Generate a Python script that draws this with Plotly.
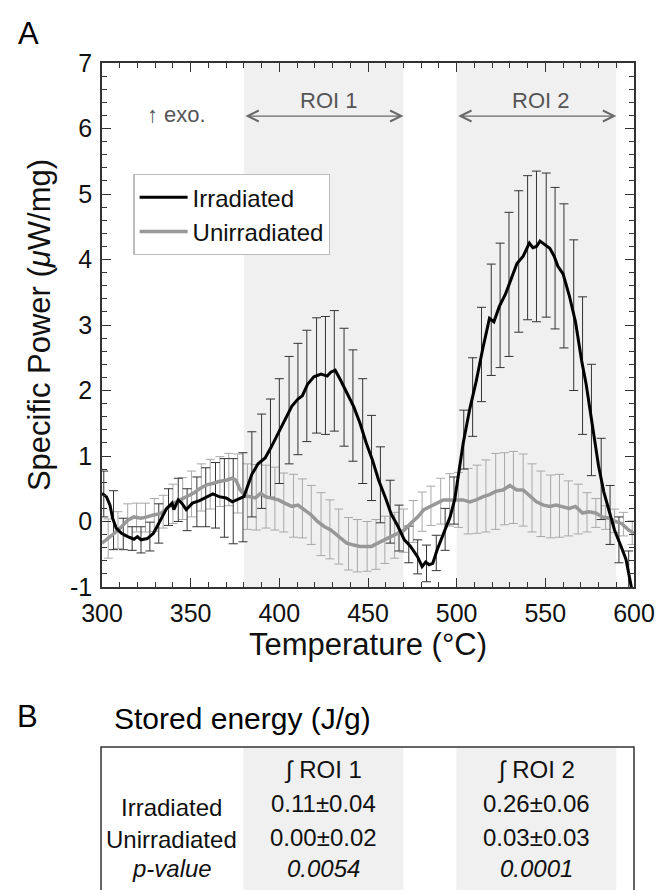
import plotly.graph_objects as go

# ---------------- data ----------------
# Irradiated mean curve (temperature °C, specific power µW/mg)
irr_T = [300, 302.5, 304.5, 306, 308, 311, 314.5, 318, 320, 322, 325.5, 329, 331, 333, 336.5,
         339.5, 340.5, 343, 345, 347.5, 351, 355, 359, 362.5, 366, 370, 373.5, 377, 380, 382,
         384.5, 388, 392, 395.5, 399.5, 403, 407, 410.5, 413, 416, 419.5, 423.5, 427, 429, 431.5,
         434.5, 438, 442, 445.5, 449, 452.5, 456, 460, 463, 467, 470.5, 474, 478, 480.5, 482.5,
         484.5, 486.5, 489, 492.5, 496.3, 499, 500.5, 503.7, 507.4, 511, 514.8, 518.5, 521, 524,
         527.5, 530.5, 534, 537.5, 541, 543, 545, 547, 549, 552.5, 555, 557, 560, 563.5, 567,
         570.5, 573, 577, 580, 583, 586, 589, 593, 595.5, 598.5, 600]
irr_P = [0.43, 0.38, 0.25, 0.05, -0.10, -0.18, -0.23, -0.27, -0.23, -0.28, -0.26, -0.18, -0.08, 0.02, 0.20,
         0.28, 0.18, 0.33, 0.28, 0.18, 0.28, 0.32, 0.38, 0.42, 0.38, 0.36, 0.30, 0.35, 0.38, 0.53,
         0.72, 0.88, 0.97, 1.14, 1.36, 1.56, 1.76, 1.87, 1.92, 2.10, 2.21, 2.25, 2.22, 2.28, 2.31,
         2.16, 1.97, 1.75, 1.50, 1.20, 0.94, 0.63, 0.35, 0.12, -0.08, -0.28, -0.38, -0.54, -0.69, -0.62,
         -0.66, -0.64, -0.43, -0.18, 0.07, 0.35, 0.60, 1.20, 1.72, 2.14, 2.65, 3.10, 3.05, 3.28,
         3.47, 3.70, 3.94, 4.05, 4.25, 4.18, 4.20, 4.28, 4.24, 4.17, 4.05, 3.90, 3.78, 3.45, 3.05,
         2.45, 2.10, 1.35, 0.85, 0.45, 0.15, -0.13, -0.40, -0.58, -1.00, -1.20]

# Unirradiated mean curve
unirr_T = [300, 303.5, 307, 311, 314.5, 318, 322, 325.5, 329, 333, 336.5, 340.5, 344, 348, 351.5,
           355, 359, 362.5, 366, 370, 373.5, 375.5, 378, 381, 383, 386.5, 389.5, 392, 395.5, 399.5,
           403, 407, 410.5, 414, 418, 421.5, 425.5, 429, 432.5, 436, 438, 442, 445.5, 449, 452,
           455.5, 459.5, 463, 467, 470.5, 474, 478, 481.5, 485, 489, 492.5, 496, 500, 503.5, 507.5,
           511, 515, 518.5, 522, 526, 530, 534, 537.5, 541.5, 545, 549, 552.5, 556, 560, 563.5,
           567, 571, 574.5, 578.5, 582, 586, 589.5, 593, 597, 600]
unirr_P = [-0.33, -0.26, -0.18, -0.08, 0.02, 0.07, 0.05, 0.07, 0.10, 0.12, 0.20, 0.28, 0.33, 0.38, 0.43,
           0.50, 0.56, 0.58, 0.61, 0.63, 0.66, 0.63, 0.48, 0.38, 0.38, 0.36, 0.43, 0.38, 0.36, 0.33,
           0.28, 0.23, 0.25, 0.18, 0.10, 0.00, -0.08, -0.13, -0.21, -0.28, -0.33, -0.36, -0.38, -0.38, -0.38,
           -0.33, -0.28, -0.23, -0.18, -0.13, -0.03, 0.07, 0.18, 0.23, 0.28, 0.33, 0.33, 0.33, 0.33, 0.30,
           0.33, 0.38, 0.41, 0.46, 0.48, 0.55, 0.48, 0.48, 0.38, 0.30, 0.25, 0.23, 0.25, 0.23, 0.20,
           0.23, 0.13, 0.15, 0.13, 0.07, 0.05, 0.00, -0.03, -0.13, -0.18]

# Error bars (mean ± s.d.) sampled along each curve
irr_err_T = [301, 306.5, 312, 317, 322, 327, 332, 337.5, 343, 348, 353.5, 358.5, 364, 369, 374,
             379.5, 384.5, 390, 395, 400, 405.5, 410.5, 415.5, 421, 426, 431, 436.5, 441.5, 447, 452,
             457, 462.5, 467.5, 473, 478, 483, 488.5, 493.5, 498.5, 504, 509, 514, 519.5, 524.5, 529.5,
             535, 540, 545, 550.5, 555.5, 560.5, 566, 571, 576, 581.5, 586.5, 591.5, 597]
irr_err_mean = [0.42, 0.02, -0.19, -0.26, -0.28, -0.23, -0.03, 0.22, 0.33, 0.18, 0.30, 0.37, 0.40, 0.36, 0.31,
                0.37, 0.72, 0.92, 1.12, 1.38, 1.70, 1.87, 2.07, 2.23, 2.23, 2.30, 2.05, 1.77, 1.38, 0.97,
                0.56, 0.15, -0.10, -0.35, -0.54, -0.64, -0.48, -0.12, 0.32, 1.25, 1.90, 2.55, 3.08, 3.30, 3.62,
                3.97, 4.18, 4.20, 4.22, 4.02, 3.75, 3.15, 2.38, 1.55, 0.65, 0.10, -0.28, -0.75]
irr_err = [0.35, 0.45, 0.24, 0.18, 0.20, 0.22, 0.30, 0.28, 0.33, 0.32, 0.38, 0.45, 0.50, 0.60, 0.65,
           0.68, 0.65, 0.72, 0.75, 0.80, 0.82, 0.85, 0.85, 0.88, 0.90, 0.92, 0.90, 0.85, 0.80, 0.65,
           0.58, 0.48, 0.35, 0.28, 0.26, 0.28, 0.27, 0.32, 0.36, 0.45, 0.60, 0.72, 0.85, 0.95, 1.10,
           1.08, 1.10, 1.15, 1.10, 1.08, 1.10, 1.15, 1.05, 0.85, 0.62, 0.45, 0.35, 0.30]

unirr_err_T = [303.5, 309, 314.5, 319.5, 324.5, 329.5, 334.5, 340, 345.5, 350.5, 356, 361, 366.5, 371.5, 376.5,
               382, 387, 392.5, 397.5, 402.5, 408, 413, 418, 423.5, 428.5, 433.5, 439, 444, 449.5, 454.5,
               459.5, 465, 470, 475.5, 480.5, 485.5, 491, 496, 501, 506.5, 511.5, 516.5, 522, 527, 532,
               537.5, 542.5, 547.5, 553, 558, 563, 568.5, 573.5, 578.5, 584, 589, 594, 599]
unirr_err_mean = [-0.26, -0.13, 0.02, 0.06, 0.06, 0.10, 0.15, 0.27, 0.35, 0.42, 0.52, 0.57, 0.61, 0.64, 0.58,
                  0.38, 0.37, 0.38, 0.35, 0.29, 0.24, 0.20, 0.10, -0.04, -0.12, -0.23, -0.34, -0.37, -0.38, -0.35,
                  -0.28, -0.21, -0.14, 0.00, 0.15, 0.24, 0.31, 0.33, 0.33, 0.31, 0.34, 0.39, 0.46, 0.50, 0.52,
                  0.48, 0.36, 0.27, 0.23, 0.24, 0.20, 0.19, 0.14, 0.13, 0.06, 0.01, -0.04, -0.17]
unirr_err = [0.30, 0.28, 0.25, 0.22, 0.22, 0.25, 0.25, 0.30, 0.32, 0.35, 0.36, 0.38, 0.38, 0.40, 0.45,
             0.50, 0.50, 0.48, 0.48, 0.45, 0.48, 0.45, 0.45, 0.48, 0.45, 0.42, 0.40, 0.40, 0.38, 0.38,
             0.36, 0.35, 0.33, 0.32, 0.30, 0.30, 0.35, 0.40, 0.42, 0.50, 0.52, 0.55, 0.58, 0.55, 0.55,
             0.55, 0.52, 0.50, 0.48, 0.48, 0.42, 0.38, 0.30, 0.22, 0.18, 0.18, 0.18, 0.18]

series_names = ["Irradiated", "Unirradiated"]
roi_labels = ["ROI 1", "ROI 2"]
roi_bounds = [(380, 470), (500, 590)]

x_ticks = [300, 350, 400, 450, 500, 550, 600]
y_ticks = [-1, 0, 1, 2, 3, 4, 5, 6, 7]

# Table B: stored energy (J/g)
table_title = "Stored energy (J/g)"
table_cols = ["∫ ROI 1", "∫ ROI 2"]
table_rows = ["Irradiated", "Unirradiated", "p-value"]
table_vals = [["0.11±0.04", "0.26±0.06"],
              ["0.00±0.02", "0.03±0.03"],
              ["0.0054", "0.0001"]]

# ---------------- layout geometry (pixels) ----------------
W, H = 667, 890
ML, MR, MT, MB = 102, 23, 63, 303
PW, PH = W - ML - MR, H - MT - MB
FONT = "Liberation Sans, Arial, Helvetica, sans-serif"


def px(xp):
    return (xp - ML) / PW


def py(yp):
    return (H - MB - yp) / PH


fig = go.Figure()

# error bars (drawn first, under the curves)
fig.add_trace(go.Scatter(
    x=unirr_err_T, y=unirr_err_mean, mode="markers",
    marker=dict(size=1, color="rgba(0,0,0,0)"),
    error_y=dict(type="data", array=unirr_err, color="#a8a8a8", thickness=1, width=4.5),
    showlegend=False, hoverinfo="skip"))
fig.add_trace(go.Scatter(
    x=irr_err_T, y=irr_err_mean, mode="markers",
    marker=dict(size=1, color="rgba(0,0,0,0)"),
    error_y=dict(type="data", array=irr_err, color="#333333", thickness=1, width=4.5),
    showlegend=False, hoverinfo="skip"))

# curves (unirradiated first so the black curve lies on top)
fig.add_trace(go.Scatter(x=unirr_T, y=unirr_P, mode="lines", name=series_names[1],
                         line=dict(color="#989898", width=3.5), legendrank=2))
fig.add_trace(go.Scatter(x=irr_T, y=irr_P, mode="lines", name=series_names[0],
                         line=dict(color="#000000", width=3), legendrank=1))

shapes = []
annotations = []

# ROI shading and arrows
roi_text_x = [428, 547]
for (a, b), lab, tx in zip(roi_bounds, roi_labels, roi_text_x):
    shapes.append(dict(type="rect", xref="x", yref="paper", x0=a, x1=b, y0=0, y1=1,
                       fillcolor="#f0f0f0", line=dict(width=0), layer="below"))
    annotations.append(dict(x=b, y=6.19, ax=a, ay=6.19, xref="x", yref="y", axref="x", ayref="y",
                            showarrow=True, arrowhead=5, startarrowhead=5, arrowside="end+start",
                            arrowsize=1.8, startarrowsize=1.8, arrowwidth=1.2, arrowcolor="#6a6a6a", text=""))
    annotations.append(dict(x=tx, y=6.43, xref="x", yref="y", xanchor="center", yanchor="middle",
                            text=lab, showarrow=False,
                            font=dict(size=22, color="#555555", family=FONT)))

annotations.append(dict(x=324, y=6.22, xref="x", yref="y", xanchor="left", yanchor="middle",
                        text="↑ exo.", showarrow=False, font=dict(size=22, color="#555555", family=FONT)))

# panel letters
annotations.append(dict(x=px(27), y=py(33), xref="paper", yref="paper", xanchor="center", yanchor="middle",
                        text="A", showarrow=False, font=dict(size=31, color="#000", family=FONT)))
annotations.append(dict(x=px(26), y=py(716), xref="paper", yref="paper", xanchor="center", yanchor="middle",
                        text="B", showarrow=False, font=dict(size=31, color="#000", family=FONT)))
annotations.append(dict(x=px(112), y=py(718), xref="paper", yref="paper", xanchor="left", yanchor="middle",
                        text=table_title, showarrow=False, font=dict(size=30, color="#000", family=FONT)))

# table B
tb_l, tb_r, tb_t, tb_b = 101, 644, 747, 900
col_px = [(246, 409), (463, 626)]
for c0, c1 in col_px:
    shapes.append(dict(type="rect", xref="paper", yref="paper", x0=px(c0), x1=px(c1),
                       y0=py(tb_b), y1=py(tb_t), fillcolor="#f0f0f0", line=dict(width=0), layer="below"))
shapes.append(dict(type="rect", xref="paper", yref="paper", x0=px(tb_l), x1=px(tb_r),
                   y0=py(tb_b), y1=py(tb_t), line=dict(color="#333333", width=1.5)))

header_y = 770
row_label_y = [807, 840, 868]
row_val_y = [803, 837, 868]
for (c0, c1), col in zip(col_px, table_cols):
    annotations.append(dict(x=px((c0 + c1) / 2), y=py(header_y), xref="paper", yref="paper",
                            xanchor="center", yanchor="middle",
                            text=col, showarrow=False, font=dict(size=24, color="#111", family=FONT)))
for i, row in enumerate(table_rows):
    italic = row == "p-value"
    annotations.append(dict(x=px(173), y=py(row_label_y[i]), xref="paper", yref="paper",
                            xanchor="center", yanchor="middle",
                            text=f"<i>{row}</i>" if italic else row, showarrow=False,
                            font=dict(size=24, color="#111", family=FONT)))
    for j, (c0, c1) in enumerate(col_px):
        v = table_vals[i][j]
        annotations.append(dict(x=px((c0 + c1) / 2), y=py(row_val_y[i]), xref="paper", yref="paper",
                                xanchor="center", yanchor="middle",
                                text=f"<i>{v}</i>" if italic else v, showarrow=False,
                                font=dict(size=24, color="#111", family=FONT)))

axis_common = dict(showgrid=False, zeroline=False, showline=True, linecolor="#333333", linewidth=1.5,
                   mirror="ticks", ticks="inside", tickcolor="#333333", tickwidth=1.2, ticklen=9,
                   tickfont=dict(size=25, color="#111", family=FONT))

fig.update_layout(
    width=W, height=H,
    margin=dict(l=ML, r=MR, t=MT, b=MB),
    paper_bgcolor="white", plot_bgcolor="white",
    font=dict(family=FONT, color="#111"),
    shapes=shapes, annotations=annotations,
    legend=dict(x=px(134), y=py(174), xanchor="left", yanchor="top",
                bgcolor="white", bordercolor="#bdbdbd", borderwidth=1.2,
                font=dict(size=24, color="#111", family=FONT),
                itemwidth=48, traceorder="normal"),
    xaxis=dict(range=[300, 600], tickvals=x_ticks, ticktext=[str(v) for v in x_ticks],
               minor=dict(dtick=10, ticks="inside", ticklen=5, tickcolor="#333333"),
               ticklabelstandoff=3,
               title=dict(text="Temperature (°C)", font=dict(size=31, color="#111", family=FONT), standoff=2),
               **axis_common),
    yaxis=dict(range=[-1, 7], tickvals=y_ticks, ticktext=[str(v) for v in y_ticks],
               minor=dict(dtick=0.2, ticks="inside", ticklen=5, tickcolor="#333333"),
               ticklabelstandoff=3,
               title=dict(text="Specific Power (<i>μ</i>W/mg)", font=dict(size=31, color="#111", family=FONT),
                          standoff=10),
               **axis_common),
)

# remove the browser's default 8px page margin so the figure sits at the window origin
fig.write_html("out.html", config={"displayModeBar": False},
               post_script="document.body.style.margin='0';")
